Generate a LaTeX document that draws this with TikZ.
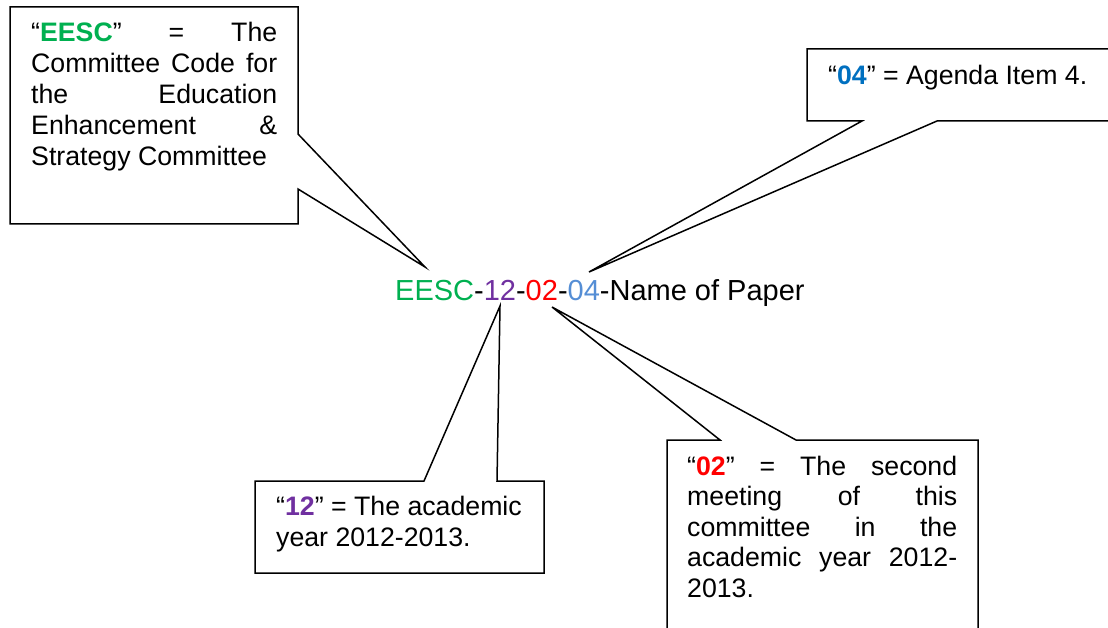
\documentclass[tikz,border=0pt]{standalone}
\usepackage{fontspec}
\setmainfont{Liberation Sans}
\definecolor{cgreen}{HTML}{00B050}
\definecolor{cpurple}{HTML}{7030A0}
\definecolor{cred}{HTML}{FF0000}
\definecolor{clight}{HTML}{558ED5}
\definecolor{cblue}{HTML}{0070C0}
\tikzset{
  callout/.style={draw=black, line width=1.5pt, line join=miter, fill=white},
  boxtext/.style={anchor=base west, inner sep=0pt, font=\fontsize{26.7}{30.8}\selectfont},
  maintext/.style={anchor=base west, inner sep=0pt, font=\fontsize{29}{34}\selectfont}
}
\begin{document}
\begin{tikzpicture}[x=1pt,y=-1pt]
\useasboundingbox (0,0) rectangle (1108,628);
% tips
\coordinate (tipA) at (425,267);
\coordinate (tipB) at (589,272);
\coordinate (tipC) at (500,306);
\coordinate (tipD) at (552,307);
% callouts
\draw[callout] (10,7) -- (298,7) -- (298,134) -- (tipA) -- (298,189) -- (298,224) -- (10,224) -- cycle;
\draw[callout] (807,49) -- (1120,49) -- (1120,121) -- (937,121) -- (tipB) -- (862,121) -- (807,121) -- cycle;
\draw[callout] (255,481) -- (424,481) -- (tipC) -- (497,481) -- (544,481) -- (544,573) -- (255,573) -- cycle;
\draw[callout] (667,440) -- (720,440) -- (tipD) -- (796,440) -- (978,440) -- (978,650) -- (667,650) -- cycle;
% texts
\node[boxtext] (tA) at (31,42) {\vtop{\hsize=246pt\fontsize{26.7}{30.8}\selectfont
  \hbox to \hsize{“\textbf{\textcolor{cgreen}{EESC}}”\hfill=\hfill The}
  \hbox to \hsize{Committee\hfill Code\hfill for}
  \hbox to \hsize{the\hfill Education}
  \hbox to \hsize{Enhancement\hfill\&}
  \hbox to \hsize{Strategy Committee\hfill}}};
\node[boxtext] (tB) at (828,85) {“\textbf{\textcolor{cblue}{04}}” = Agenda Item 4.};
\node[boxtext] (tC) at (276,515) {\vtop{\hsize=260pt\fontsize{26.7}{31.5}\selectfont
  \hbox to \hsize{“\textbf{\textcolor{cpurple}{12}}” = The academic\hfill}
  \hbox to \hsize{year 2012-2013.\hfill}}};
\node[boxtext] (tD) at (687,475) {\vtop{\hsize=270pt\fontsize{26.7}{30.6}\selectfont
  \hbox to \hsize{“\textbf{\textcolor{cred}{02}}”\hfill=\hfill The\hfill second}
  \hbox to \hsize{meeting\hfill of\hfill this}
  \hbox to \hsize{committee\hfill in\hfill the}
  \hbox to \hsize{academic\hfill year\hfill 2012-}
  \hbox to \hsize{2013.\hfill}}};
\node[maintext] (main) at (395,301) {\textcolor{cgreen}{EESC}-\textcolor{cpurple}{12}-\textcolor{cred}{02}-\textcolor{clight}{04}-Name of Paper};
\end{tikzpicture}
\end{document}
